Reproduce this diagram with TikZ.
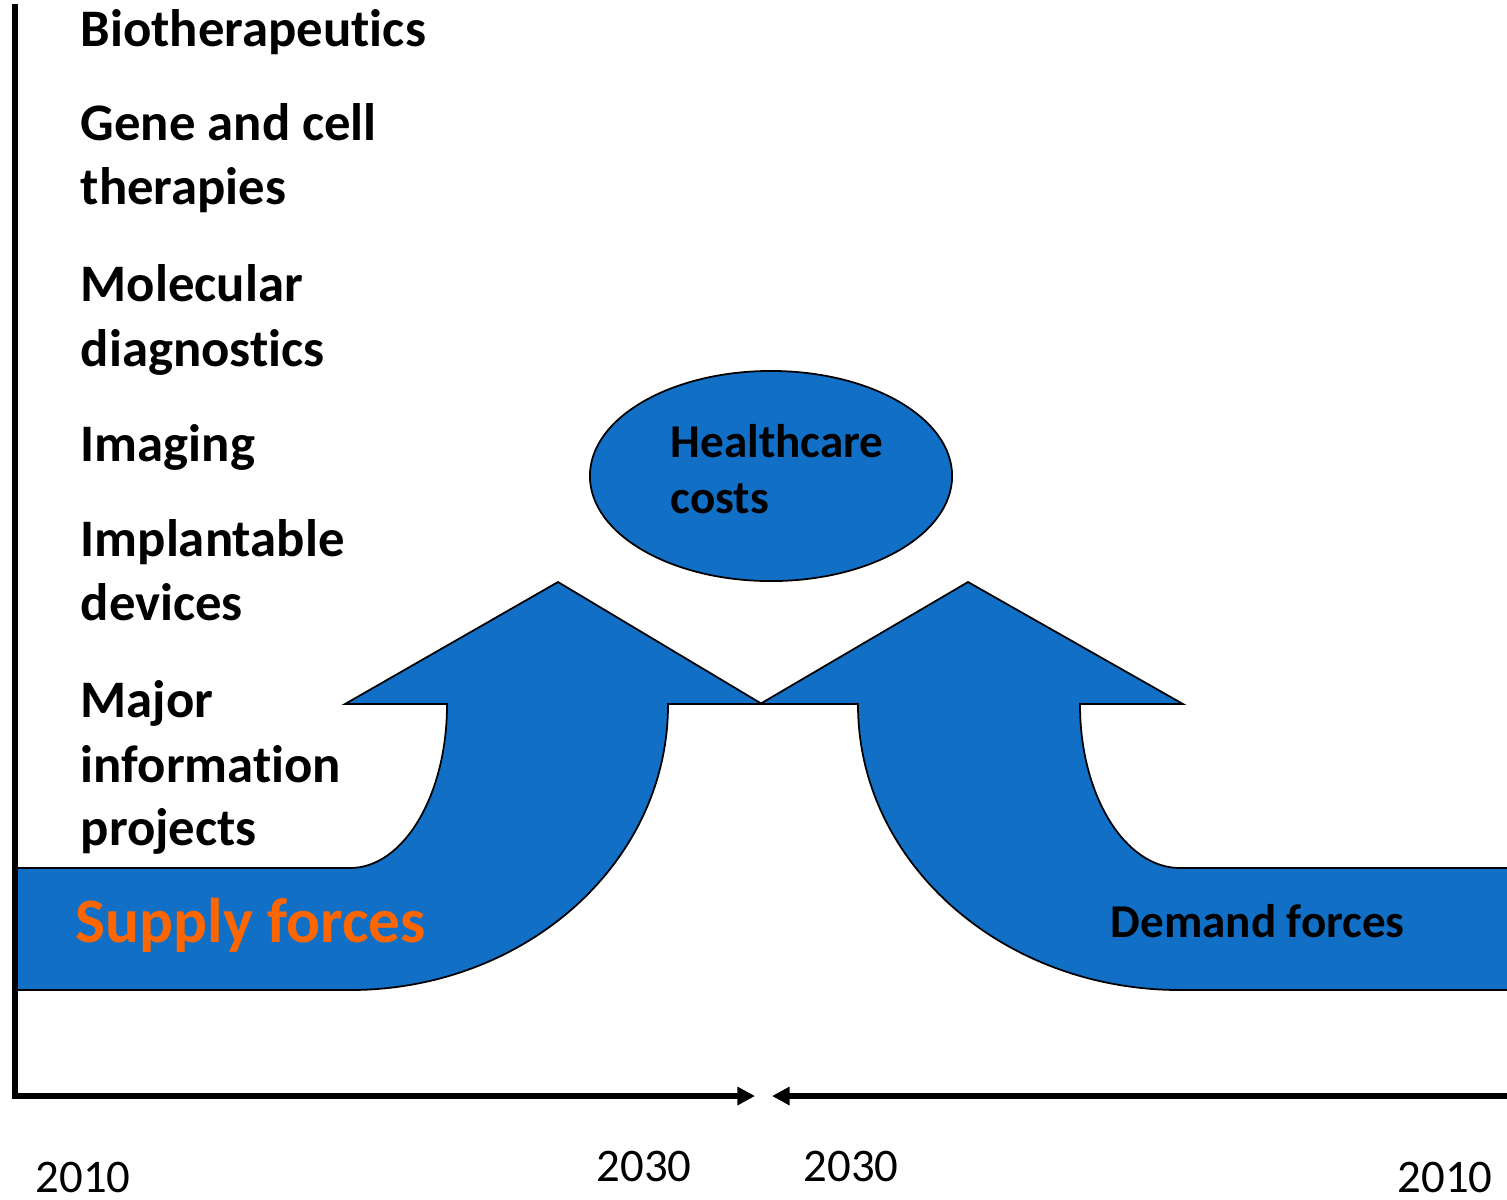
\documentclass[tikz,border=0pt]{standalone}
\usepackage{fontspec}
\setmainfont{Carlito}[Ligatures=NoCommon]
\usetikzlibrary{arrows.meta,shapes.geometric}
\definecolor{forceblue}{RGB}{17,111,198}
\definecolor{supplyorange}{RGB}{255,102,0}
\tikzset{
  forceshape/.style={draw=black,line width=0.5pt,fill=forceblue,line join=miter},
  itemtext/.style={anchor=base west,inner sep=0pt,font=\fontsize{15}{18}\selectfont\bfseries},
  smalltext/.style={anchor=base west,inner sep=0pt,font=\fontsize{13.4}{16}\selectfont\bfseries},
  yeartext/.style={anchor=base west,inner sep=0pt,font=\fontsize{13.3}{16}\selectfont},
  axisline/.style={line width=1.5pt,draw=black},
  axisarrow/.style={axisline,-{Triangle[length=5pt,width=5pt]}}
}
\begin{document}
\begin{tikzpicture}[x=0.01cm,y=0.01cm]
\useasboundingbox (0,0) rectangle (1507,-1199);
\clip (0,0) rectangle (1507,-1199);
\fill[white] (0,0) rectangle (1507,-1199);

% supply arrow
\draw[forceshape] (15,-868) -- (350,-868) arc(270:360:97 and 163) -- (447,-704)
  -- (345,-704) -- (558,-582) -- (762,-704) -- (668,-704) -- (668,-705)
  arc(0:-90:318 and 285) -- (15,-990) -- cycle;
% demand arrow
\draw[forceshape] (1530,-868) -- (1180,-868) arc(270:180:100 and 163) -- (1080,-704)
  -- (1183,-704) -- (968,-582) -- (760,-704) -- (858,-704) -- (858,-705)
  arc(180:270:322 and 285) -- (1530,-990) -- cycle;

% healthcare costs ellipse
\node[ellipse,draw=black,line width=0.5pt,fill=forceblue,minimum width=3.62cm,minimum height=2.1cm,inner sep=0pt] (hc) at (771,-476) {};
\node[smalltext] (hc1) at (670,-457) {Healthcare};
\node[smalltext] (hc2) at (670,-513) {costs};

% axes
\coordinate (ytop) at (15,-7);
\coordinate (origin) at (15,-1096);
\coordinate (ltip) at (755,-1096);
\coordinate (rstart) at (1510,-1096);
\coordinate (rtip) at (772,-1096);
\draw[axisline,line cap=rect] (ytop) -- (origin);
\draw[axisarrow] (origin) -- (ltip);
\draw[axisarrow] (rstart) -- (rtip);

% supply items
\node[itemtext] (t1) at (80,-46) {Biotherapeutics};
\node[itemtext] (t2a) at (80,-140) {Gene and cell};
\node[itemtext] (t2b) at (80,-204) {therapies};
\node[itemtext] (t3a) at (80,-301) {Molecular};
\node[itemtext] (t3b) at (80,-366) {diagnostics};
\node[itemtext] (t4) at (80,-461) {Imaging};
\node[itemtext] (t5a) at (80,-556) {Implantable};
\node[itemtext] (t5b) at (80,-620) {devices};
\node[itemtext] (t6a) at (80,-717) {Major};
\node[itemtext] (t6b) at (80,-782) {information};
\node[itemtext] (t6c) at (80,-845) {projects};

% force labels
\node[anchor=base west,inner sep=0pt,font=\fontsize{18}{21}\selectfont\bfseries,text=supplyorange] (supply) at (75,-942) {Supply forces};
\node[smalltext] (demand) at (1110,-937) {Demand forces};

% years
\node[yeartext] (y1) at (35,-1192) {2010};
\node[yeartext] (y2) at (596,-1181) {2030};
\node[yeartext] (y3) at (803,-1181) {2030};
\node[yeartext] (y4) at (1397,-1192) {2010};
\end{tikzpicture}
\end{document}
